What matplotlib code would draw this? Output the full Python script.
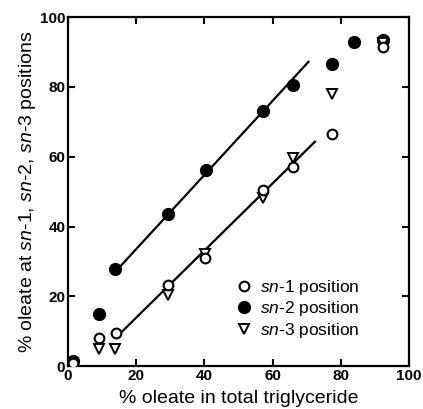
import matplotlib
matplotlib.use("Agg")
import matplotlib.pyplot as plt

plt.rcParams['font.family'] = ['Liberation Sans', 'DejaVu Sans']
plt.rcParams['mathtext.fontset'] = 'custom'
plt.rcParams['mathtext.rm'] = 'Liberation Sans'
plt.rcParams['mathtext.it'] = 'Liberation Sans:italic'

# data
sn1_x = [1.5, 9.0, 14.0, 29.4, 40.2, 57.3, 66.0, 77.3, 92.5]
sn1_y = [1.0, 7.9, 9.4, 23.1, 30.9, 50.4, 57.1, 66.4, 91.5]

sn2_x = [1.5, 9.0, 13.9, 29.2, 40.4, 57.3, 65.9, 77.3, 83.9, 92.5]
sn2_y = [1.5, 14.9, 27.7, 43.7, 56.2, 73.1, 80.7, 86.5, 92.8, 93.4]

sn3_x = [1.5, 9.0, 13.9, 29.2, 40.2, 57.3, 66.0, 77.3, 92.5]
sn3_y = [1.0, 5.0, 5.0, 20.3, 32.1, 48.3, 59.5, 78.1, 92.6]

# regression line end points
line2_x = [14.3, 70.5]
line2_y = [27.5, 87.2]
line13_x = [14.8, 72.4]
line13_y = [8.9, 64.3]

ticks = [0, 20, 40, 60, 80, 100]

fig = plt.figure(figsize=(4.23, 4.09), dpi=100)
ax = fig.add_axes([0.161, 0.105, 0.806, 0.853])

ax.plot(line2_x, line2_y, color='black', lw=1.6, zorder=1)
ax.plot(line13_x, line13_y, color='black', lw=1.6, zorder=1)

ax.plot(sn1_x, sn1_y, 'o', ms=7, mfc='white', mec='black', mew=1.5,
        ls='none', label=r'$\mathit{sn}$-1 position', zorder=3)
ax.plot(sn2_x, sn2_y, 'o', ms=8.5, mfc='black', mec='black',
        ls='none', label=r'$\mathit{sn}$-2 position', zorder=2)
ax.plot(sn3_x, sn3_y, 'v', ms=7, mfc='white', mec='black', mew=1.4,
        ls='none', label=r'$\mathit{sn}$-3 position', zorder=2)

ax.set_xlim(0, 100)
ax.set_ylim(0, 100)
ax.set_xticks(ticks)
ax.set_yticks(ticks)
ax.set_xticklabels([str(t) for t in ticks], fontweight='bold', fontsize=11)
ax.set_yticklabels([str(t) for t in ticks], fontweight='bold', fontsize=11)
ax.tick_params(direction='in', length=5, width=1.5, top=True, right=True, pad=2)
for s in ax.spines.values():
    s.set_linewidth(1.6)

ax.set_xlabel('% oleate in total triglyceride', fontsize=14, labelpad=5)
ax.set_ylabel(r'% oleate at $\mathit{sn}$-1, $\mathit{sn}$-2, $\mathit{sn}$-3 positions',
              fontsize=14, labelpad=1)

ax.legend(loc='lower left', bbox_to_anchor=(0.46, 0.05), frameon=False,
          fontsize=12.5, handletextpad=0.3, borderpad=0, labelspacing=0.15,
          handlelength=1.2)

fig.savefig('out.png', dpi=100)
